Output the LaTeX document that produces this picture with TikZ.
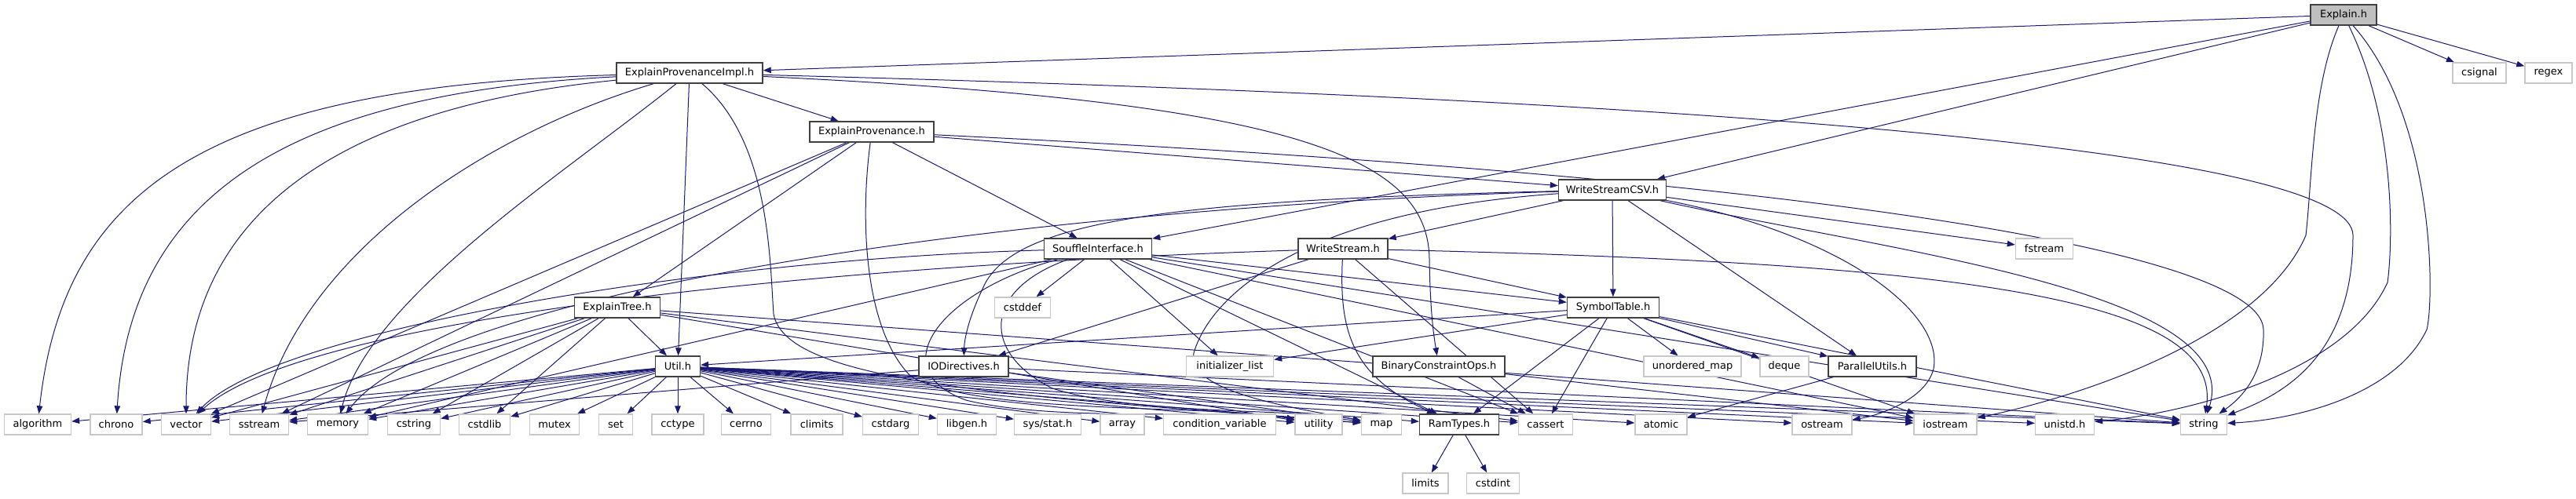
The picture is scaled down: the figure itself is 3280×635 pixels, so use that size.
\documentclass[tikz,border=0pt]{standalone}
\usepackage{fontspec}
\newfontfamily\dvfont{DejaVu Sans}
\usetikzlibrary{arrows.meta}
\definecolor{edgeblue}{HTML}{191970}
\definecolor{sysgray}{HTML}{C8C8C8}
\definecolor{rootgray}{HTML}{BFBFBF}
\pgfdeclarelayer{bg}
\pgfsetlayers{bg,main}
\tikzset{
  hbox/.style={draw=black!75, fill=white, line width=1.4pt, minimum height=26pt, inner sep=0pt, font=\dvfont\fontsize{13}{15}\selectfont},
  sbox/.style={draw=sysgray, fill=white, line width=1.4pt, minimum height=26pt, inner sep=0pt, font=\dvfont\fontsize{13}{15}\selectfont},
  rbox/.style={hbox, fill=rootgray},
  e/.style={draw=edgeblue, line width=1pt, -{Triangle[length=10pt,width=7.5pt]}}
}
\begin{document}
\begin{tikzpicture}[x=1pt,y=-1pt]
\useasboundingbox (0,0) rectangle (3280,635);
% top levels
\node[rbox, minimum width=84pt] (exh) at (2984,19) {Explain.h};
\node[sbox, minimum width=68pt] (csignal) at (3157,93) {csignal};
\node[sbox, minimum width=60pt] (regex) at (3245,93) {regex};
\node[hbox, minimum width=186pt] (epi) at (878,93) {ExplainProvenanceImpl.h};
\node[hbox, minimum width=158pt] (ep) at (1110,168) {ExplainProvenance.h};
\node[hbox, minimum width=137pt] (wcsv) at (2053,242) {WriteStreamCSV.h};
\node[hbox, minimum width=137pt] (si) at (1398,317) {SouffleInterface.h};
\node[hbox, minimum width=114pt] (ws) at (1710,317) {WriteStream.h};
\node[sbox, minimum width=73pt] (fstream) at (2603,317) {fstream};
\node[hbox, minimum width=109pt] (et) at (786,392) {ExplainTree.h};
\node[sbox, minimum width=71pt] (cstddef) at (1302,392) {cstddef};
\node[hbox, minimum width=117pt] (st) at (2054,392) {SymbolTable.h};
\node[hbox, minimum width=57pt] (util) at (863,467) {Util.h};
\node[hbox, minimum width=114pt] (io) at (1227,467) {IODirectives.h};
\node[sbox, minimum width=111pt] (initlist) at (1566,467) {initializer\_list};
\node[hbox, minimum width=168pt] (bco) at (1832,467) {BinaryConstraintOps.h};
\node[sbox, minimum width=124pt] (umap) at (2155,467) {unordered\_map};
\node[sbox, minimum width=62pt] (deque) at (2272,467) {deque};
\node[hbox, minimum width=112pt] (pu) at (2384,467) {ParallelUtils.h};
% bottom row
\node[sbox, minimum width=85pt] (algorithm) at (48,541) {algorithm};
\node[sbox, minimum width=66pt] (chrono) at (148,541) {chrono};
\node[sbox, minimum width=63pt] (vector) at (237,541) {vector};
\node[sbox, minimum width=75pt] (sstream) at (330,541) {sstream};
\node[sbox, minimum width=77pt] (memory) at (430,541) {memory};
\node[sbox, minimum width=67pt] (cstring) at (527,541) {cstring};
\node[sbox, minimum width=65pt] (cstdlib) at (617,541) {cstdlib};
\node[sbox, minimum width=63pt] (mutex) at (706,541) {mutex};
\node[sbox, minimum width=43pt] (set) at (784,541) {set};
\node[sbox, minimum width=66pt] (cctype) at (863,541) {cctype};
\node[sbox, minimum width=63pt] (cerrno) at (950,541) {cerrno};
\node[sbox, minimum width=66pt] (climits) at (1040,541) {climits};
\node[sbox, minimum width=71pt] (cstdarg) at (1134,541) {cstdarg};
\node[sbox, minimum width=75pt] (libgen) at (1231,541) {libgen.h};
\node[sbox, minimum width=85pt] (sysstat) at (1334,541) {sys/stat.h};
\node[sbox, minimum width=56pt] (array) at (1429,541) {array};
\node[sbox, minimum width=143pt] (condvar) at (1553,541) {condition\_variable};
\node[sbox, minimum width=60pt] (utility) at (1679,541) {utility};
\node[sbox, minimum width=51pt] (map) at (1759,541) {map};
\node[hbox, minimum width=101pt] (ramtypes) at (1858,541) {RamTypes.h};
\node[sbox, minimum width=69pt] (cassert) at (1968,541) {cassert};
\node[sbox, minimum width=66pt] (atomic) at (2115,541) {atomic};
\node[sbox, minimum width=76pt] (ostream) at (2320,541) {ostream};
\node[sbox, minimum width=80pt] (iostream) at (2477,541) {iostream};
\node[sbox, minimum width=75pt] (unistd) at (2629,541) {unistd.h};
\node[sbox, minimum width=59pt] (string) at (2806,541) {string};
\node[sbox, minimum width=58pt] (limits) at (1815,616) {limits};
\node[sbox, minimum width=67pt] (cstdint) at (1901,616) {cstdint};
% edges
\begin{pgfonlayer}{bg}
% Explain.h
\foreach \t in {epi,si,wcsv,csignal,regex} \draw[e] (exh) -- (\t);
\draw[e] (exh) .. controls (2944,110) and (2944,230) .. (2936,300) .. controls (2880,430) and (2650,505) .. (iostream);
\draw[e] (exh) .. controls (3048,150) and (3048,300) .. (3040,360) .. controls (2990,470) and (2800,525) .. (unistd);
\draw[e] (exh) .. controls (3100,150) and (3100,380) .. (3090,420) .. controls (3050,505) and (2920,535) .. (string);
% ExplainProvenanceImpl.h
\draw[e] (epi) -- (ep);
\draw[e] (epi) -- (util);
\draw[e] (epi) .. controls (1650,130) and (1818,200) .. (1820,330) .. controls (1821,400) and (1826,430) .. (bco);
\draw[e] (epi) .. controls (2300,130) and (2996,200) .. (2996,300) .. controls (2996,460) and (2900,505) .. (string);
\draw[e] (epi) .. controls (250,110) and (80,250) .. (algorithm);
\draw[e] (epi) .. controls (350,120) and (165,260) .. (chrono);
\draw[e] (epi) .. controls (450,135) and (237,260) .. (vector);
\draw[e] (epi) .. controls (620,170) and (390,320) .. (sstream);
\draw[e] (epi) .. controls (720,220) and (470,380) .. (memory);
\draw[e] (epi) .. controls (980,180) and (980,330) .. (985,400) .. controls (1000,490) and (1300,505) .. (map);
% ExplainProvenance.h
\foreach \t in {et,si,wcsv,vector,sstream} \draw[e] (ep) -- (\t);
\draw[e] (ep) .. controls (2400,230) and (2880,330) .. (2882,420) .. controls (2884,480) and (2850,510) .. (string);
\draw[e] (ep) .. controls (1095,280) and (1100,420) .. (1160,480) .. controls (1250,530) and (1550,515) .. (utility);
% ExplainTree.h
\foreach \t in {util,vector,sstream,memory,cstring,cstdlib,string,cassert,utility} \draw[e] (et) -- (\t);
% SouffleInterface.h
\foreach \t in {ramtypes,st,cstddef,initlist,memory,cassert,iostream,string} \draw[e] (si) -- (\t);
\draw[e] (si) .. controls (900,330) and (350,420) .. (vector);
\draw[e] (si) .. controls (1200,370) and (1120,470) .. (1230,510) .. controls (1350,540) and (1580,520) .. (utility);
\draw[e] (si) .. controls (1250,370) and (1250,450) .. (1340,495) .. controls (1450,530) and (1650,520) .. (map);
% WriteStream.h
\foreach \t in {io,st,cassert} \draw[e] (ws) -- (\t);
\draw[e] (ws) .. controls (1000,340) and (380,410) .. (vector);
\draw[e] (ws) .. controls (1705,420) and (1720,480) .. (ramtypes);
\draw[e] (ws) .. controls (2500,335) and (2830,380) .. (string);
% WriteStreamCSV.h
\foreach \t in {ws,st,pu,fstream} \draw[e] (wcsv) -- (\t);
\draw[e] (wcsv) .. controls (1300,265) and (560,370) .. (memory);
\draw[e] (wcsv) .. controls (2400,320) and (2860,370) .. (string);
\draw[e] (wcsv) .. controls (2350,300) and (2475,400) .. (2462,470) .. controls (2452,510) and (2390,530) .. (ostream);
\draw[e] (wcsv) .. controls (1500,255) and (1300,280) .. (1255,360) .. controls (1235,400) and (1228,430) .. (io);
\draw[e] (wcsv) .. controls (1650,270) and (1540,380) .. (1520,450) .. controls (1510,500) and (1650,520) .. (map);
% SymbolTable.h
\foreach \t in {util,initlist,ramtypes,cassert,umap,deque,pu,iostream,string} \draw[e] (st) -- (\t);
% Util.h
\foreach \t in {algorithm,chrono,vector,sstream,memory,cstring,cstdlib,mutex,set,cctype,cerrno,climits,cstdarg,libgen,sysstat,array,condvar,utility,map,ramtypes,cassert,atomic,ostream,iostream,unistd,string} \draw[e] (util) -- (\t);
% others
\foreach \t in {sstream,map,string} \draw[e] (io) -- (\t);
\foreach \t in {cassert,iostream} \draw[e] (bco) -- (\t);
\draw[e] (pu) -- (atomic);
\foreach \t in {limits,cstdint} \draw[e] (ramtypes) -- (\t);
\end{pgfonlayer}
\end{tikzpicture}
\end{document}
